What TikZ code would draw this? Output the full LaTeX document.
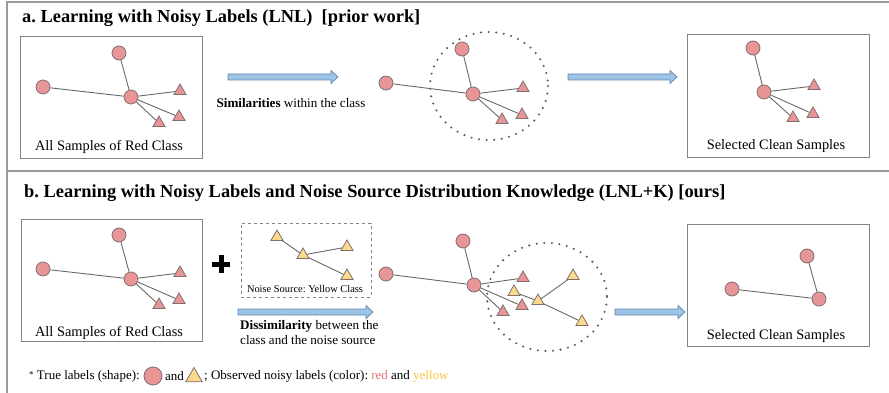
\documentclass[tikz,border=0pt]{standalone}
\usepackage{fontspec}
\setmainfont{Liberation Serif}
\usetikzlibrary{shapes.geometric}
\frenchspacing
\definecolor{redfill}{RGB}{231,149,151}
\definecolor{yelfill}{RGB}{250,219,140}
\definecolor{shapeline}{RGB}{130,110,110}
\definecolor{edgecol}{RGB}{105,105,105}
\definecolor{framecol}{RGB}{155,155,155}
\definecolor{boxcol}{RGB}{130,130,130}
\definecolor{arrfill}{RGB}{157,195,230}
\definecolor{arrline}{RGB}{95,135,175}
\definecolor{redtext}{RGB}{232,118,120}
\definecolor{yeltext}{RGB}{246,196,72}
\tikzset{
  rc/.style={circle,fill=redfill,draw=shapeline,line width=0.8pt,minimum size=14pt,inner sep=0pt},
  rt/.style={regular polygon,regular polygon sides=3,fill=redfill,draw=shapeline,line width=0.8pt,minimum size=14pt,inner sep=0pt},
  yt/.style={regular polygon,regular polygon sides=3,fill=yelfill,draw=shapeline,line width=0.8pt,minimum size=14pt,inner sep=0pt},
  edgeline/.style={draw=edgecol,line width=0.9pt},
  samplebox/.style={draw=boxcol,line width=0.9pt,inner sep=0pt},
  frameline/.style={draw=framecol,line width=1.4pt},
  titletxt/.style={anchor=west,inner sep=0pt,font=\fontsize{18.4}{22}\selectfont\bfseries},
  captxt/.style={inner sep=0pt,font=\fontsize{14.4}{17}\selectfont},
  smalltxt/.style={inner sep=0pt,font=\fontsize{13.1}{15.5}\selectfont},
  legtxt/.style={inner sep=0pt,anchor=west,font=\fontsize{13}{15}\selectfont},
  dotring/.style={draw=black!65,line width=2.3pt,line cap=round,dash pattern=on 0pt off 7.6pt},
  bigarrow/.style={fill=arrfill,draw=arrline,line width=0.7pt},
}
\newcommand{\blockarr}[3]{%
  \path[bigarrow] (#1,#3-3) -- (#2-7,#3-3) -- (#2-7,#3-6.5) -- (#2,#3) -- (#2-7,#3+6.5) -- (#2-7,#3+3) -- (#1,#3+3) -- cycle;}
\begin{document}
\begin{tikzpicture}[x=1pt,y=-1pt]
\useasboundingbox (0,0) rectangle (889,393);
% frame
\draw[frameline] (7,393) -- (7,2) -- (889,2);
\draw[frameline] (7,171) -- (889,171);

% ---------- part a ----------
\node[titletxt] (ta) at (22,18) {a. Learning with Noisy Labels (LNL)\ \ [prior work]};

\node[samplebox,minimum width=182pt,minimum height=122pt] (boxA1) at (111.5,97) {};
\node[rc] (a1t) at (119,53) {};
\node[rc] (a1l) at (43,87) {};
\node[rc] (a1c) at (131,97) {};
\node[rt] (a1r1) at (180,91) {};
\node[rt] (a1r2) at (179,117) {};
\node[rt] (a1r3) at (159,123) {};
\draw[edgeline] (a1t) -- (a1c) (a1l) -- (a1c) (a1c) -- (a1r1) (a1c) -- (a1r2) (a1c) -- (a1r3);
\node[captxt] (capA1) at (109,147) {All Samples of Red Class};

\blockarr{228}{338}{77}
\node[smalltxt] (simtxt) at (291,103) {\textbf{Similarities} within the class};

\draw[dotring] (489,86) ellipse [x radius=59,y radius=54];
\node[rc] (a2l) at (386,83) {};
\node[rc] (a2t) at (462,49) {};
\node[rc] (a2c) at (473,94) {};
\node[rt] (a2r1) at (523,88) {};
\node[rt] (a2r2) at (522,115) {};
\node[rt] (a2r3) at (502,120) {};
\draw[edgeline] (a2t) -- (a2c) (a2l) -- (a2c) (a2c) -- (a2r1) (a2c) -- (a2r2) (a2c) -- (a2r3);

\blockarr{568}{677}{77}

\node[samplebox,minimum width=182pt,minimum height=123pt] (boxA3) at (778,95.5) {};
\node[rc] (a3t) at (753,48) {};
\node[rc] (a3c) at (764,92) {};
\node[rt] (a3r1) at (814,86) {};
\node[rt] (a3r2) at (813,114) {};
\node[rt] (a3r3) at (793,118) {};
\draw[edgeline] (a3t) -- (a3c) (a3c) -- (a3r1) (a3c) -- (a3r2) (a3c) -- (a3r3);
\node[captxt] (capA3) at (776,146) {Selected Clean Samples};

% ---------- part b ----------
\node[titletxt] (tb) at (24,193) {b. Learning with Noisy Labels and Noise Source Distribution Knowledge (LNL+K) [ours]};

\node[samplebox,minimum width=181pt,minimum height=122pt] (boxB1) at (111.5,280) {};
\node[rc] (b1t) at (119,235) {};
\node[rc] (b1l) at (43,269) {};
\node[rc] (b1c) at (131,279) {};
\node[rt] (b1r1) at (180,273) {};
\node[rt] (b1r2) at (179,300) {};
\node[rt] (b1r3) at (159,305) {};
\draw[edgeline] (b1t) -- (b1c) (b1l) -- (b1c) (b1c) -- (b1r1) (b1c) -- (b1r2) (b1c) -- (b1r3);
\node[captxt] (capB1) at (109,333) {All Samples of Red Class};

\draw[line width=5pt] (212,264) -- (230,264) (221,255) -- (221,273);

\node[draw=boxcol,dashed,line width=1pt,minimum width=130pt,minimum height=74pt,inner sep=0pt] (noisebox) at (306,260) {};
\node[yt] (ny1) at (277,237) {};
\node[yt] (nyc) at (303,255) {};
\node[yt] (ny2) at (347,247) {};
\node[yt] (ny3) at (347,276) {};
\draw[edgeline] (ny1) -- (nyc) (nyc) -- (ny2) (nyc) -- (ny3);
\node[inner sep=0pt,font=\fontsize{10.4}{12}\selectfont] (noisetxt) at (305,289) {Noise Source: Yellow Class};

\blockarr{238}{373}{312}
\node[smalltxt,anchor=north west,align=left] (distxt) at (240,320) {\textbf{Dissimilarity} between the\\class and the noise source};

\draw[dotring] (547,297) ellipse [x radius=60,y radius=54];
\node[rc] (b2l) at (386,274) {};
\node[rc] (b2t) at (463,241) {};
\node[rc] (b2c) at (474,285) {};
\node[rt] (b2r1) at (523,278) {};
\node[rt] (b2r2) at (522,306) {};
\node[rt] (b2r3) at (503,312) {};
\node[yt] (b2y1) at (514,292) {};
\node[yt] (b2yc) at (538,301) {};
\node[yt] (b2y2) at (573,276) {};
\node[yt] (b2y3) at (582,322) {};
\draw[edgeline] (b2t) -- (b2c) (b2l) -- (b2c) (b2c) -- (b2r1) (b2c) -- (b2r2) (b2c) -- (b2r3);
\draw[edgeline] (b2y1) -- (b2yc) (b2yc) -- (b2y2) (b2yc) -- (b2y3);

\blockarr{615}{685}{312}

\node[samplebox,minimum width=182pt,minimum height=122pt] (boxB3) at (778,285) {};
\node[rc] (b3t) at (807,256) {};
\node[rc] (b3l) at (732,289) {};
\node[rc] (b3c) at (819,299) {};
\draw[edgeline] (b3t) -- (b3c) (b3l) -- (b3c);
\node[captxt] (capB3) at (776,336) {Selected Clean Samples};

% ---------- legend ----------
\node[legtxt] (lg1) at (29,376) {\raisebox{2pt}{\fontsize{9}{10}\selectfont*} True labels (shape):};
\node[rc,minimum size=18pt] (lgc) at (153,376) {};
\node[legtxt] (lg2) at (165,376) {and};
\node[yt,minimum size=19pt] (lgt) at (194,377) {};
\node[legtxt] (lg3) at (204,376) {; Observed noisy labels (color): \textcolor{redtext}{red} and \textcolor{yeltext}{yellow}};
\end{tikzpicture}
\end{document}
